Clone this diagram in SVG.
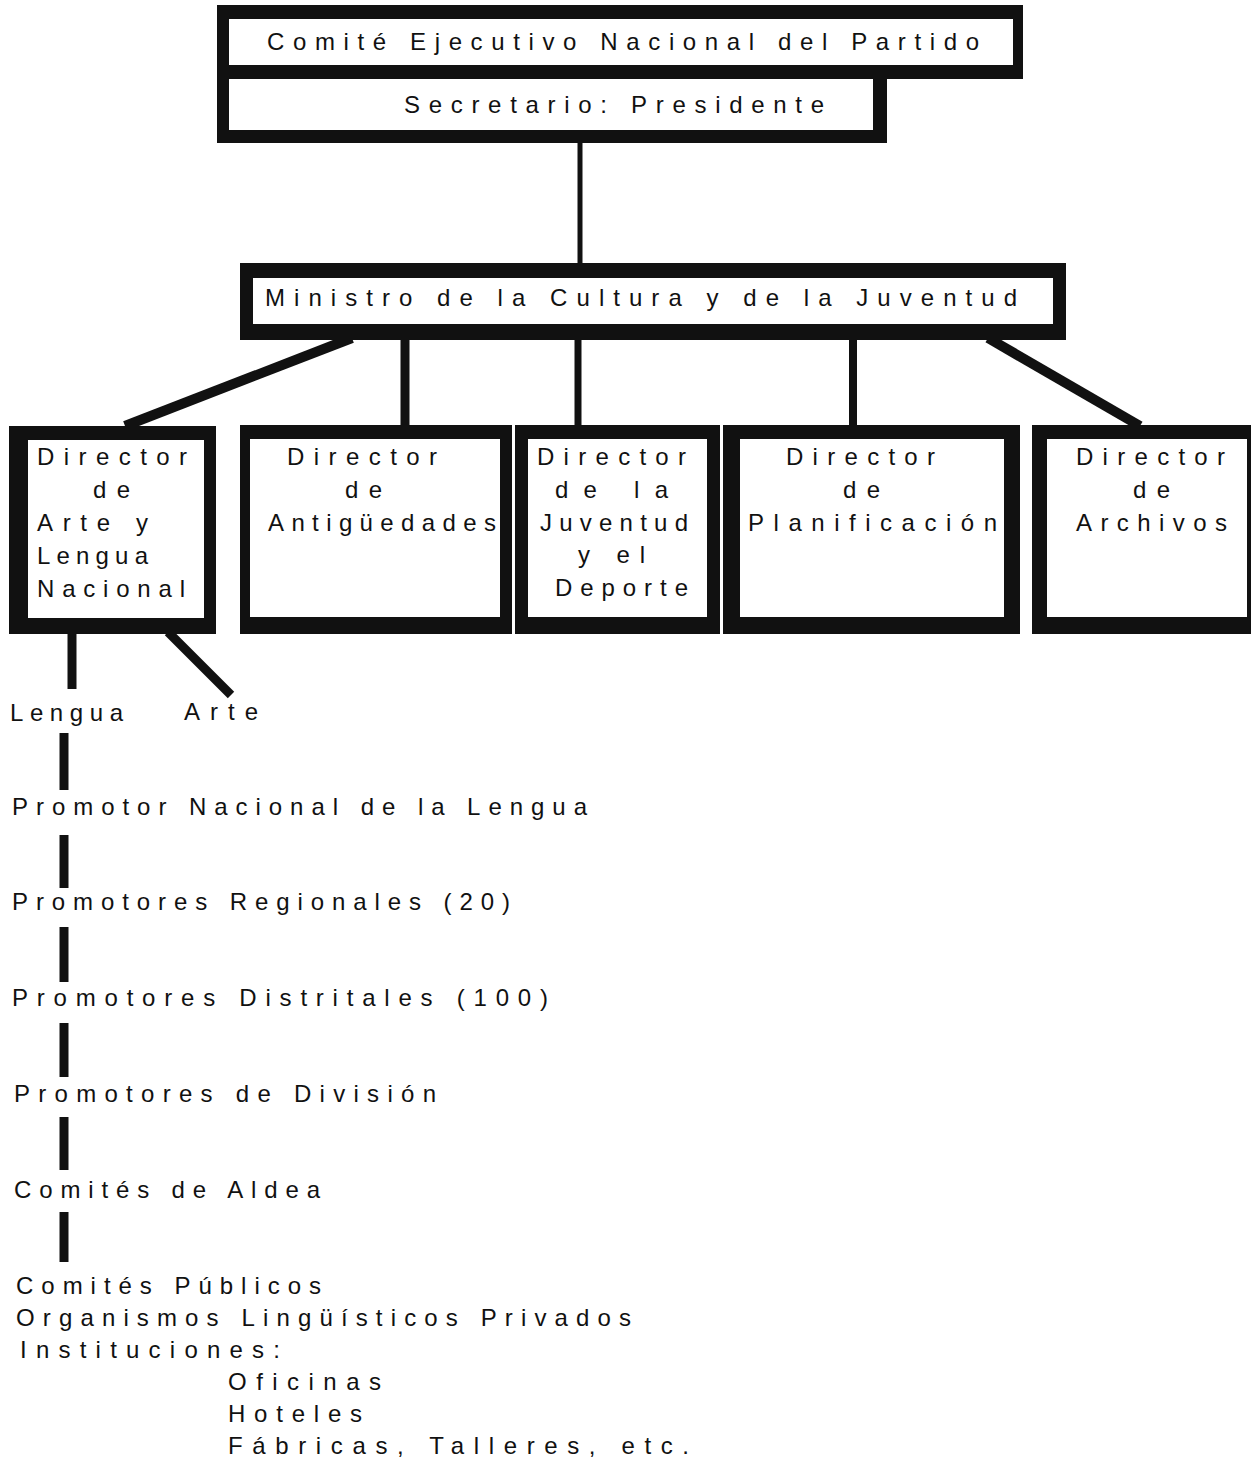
<svg xmlns="http://www.w3.org/2000/svg" width="1251" height="1459" viewBox="0 0 1251 1459">
<style>
text{font-family:"Liberation Sans",Arial,sans-serif;font-size:24px;fill:#111;}
.frame{fill:#111;}
.inner{fill:#fff;}
.ln{stroke:#111;fill:none;stroke-linecap:butt;}
</style>
<rect width="1251" height="1459" fill="#fff"/>
<g id="connectors">
<line class="ln" x1="580" y1="143" x2="580" y2="264" stroke-width="5"/>
<line class="ln" x1="352" y1="338" x2="125" y2="426" stroke-width="10"/>
<line class="ln" x1="405" y1="338" x2="405" y2="426" stroke-width="9"/>
<line class="ln" x1="578" y1="338" x2="578" y2="426" stroke-width="7"/>
<line class="ln" x1="853" y1="338" x2="853" y2="426" stroke-width="8"/>
<line class="ln" x1="988" y1="338" x2="1140" y2="426" stroke-width="10"/>
<line class="ln" x1="72" y1="632" x2="72" y2="689" stroke-width="9"/>
<line class="ln" x1="168" y1="632" x2="231" y2="695" stroke-width="9"/>
<line class="ln" x1="64" y1="733" x2="64" y2="790" stroke-width="9"/>
<line class="ln" x1="64" y1="835" x2="64" y2="888" stroke-width="9"/>
<line class="ln" x1="64" y1="927" x2="64" y2="982" stroke-width="9"/>
<line class="ln" x1="64" y1="1023" x2="64" y2="1077" stroke-width="9"/>
<line class="ln" x1="64" y1="1117" x2="64" y2="1170" stroke-width="9"/>
<line class="ln" x1="64" y1="1212" x2="64" y2="1262" stroke-width="9"/>
</g>
<g id="comite">
<rect class="frame" x="217" y="5" width="806" height="74"/>
<rect class="inner" x="229" y="19" width="784" height="46"/>
<text x="267" y="50" textLength="712" lengthAdjust="spacing">Comité Ejecutivo Nacional del Partido</text>
</g>
<g id="secretario">
<rect class="frame" x="217" y="65" width="670" height="78"/>
<rect class="inner" x="229" y="79" width="644" height="51"/>
<text x="404" y="113" textLength="420" lengthAdjust="spacing">Secretario: Presidente</text>
</g>
<g id="ministro">
<rect class="frame" x="240" y="263" width="826" height="77"/>
<rect class="inner" x="253" y="278" width="800" height="46"/>
<text x="265" y="306" textLength="752" lengthAdjust="spacing">Ministro de la Cultura y de la Juventud</text>
</g>
<g id="dir-arte-lengua">
<rect class="frame" x="9" y="426" width="207" height="208"/>
<rect class="inner" x="28" y="440" width="176" height="178"/>
<text x="37" y="465" textLength="150" lengthAdjust="spacing">Director</text>
<text x="93" y="498" textLength="37" lengthAdjust="spacing">de</text>
<text x="37" y="531" textLength="111" lengthAdjust="spacing">Arte y</text>
<text x="37" y="564" textLength="111" lengthAdjust="spacing">Lengua</text>
<text x="37" y="597" textLength="148" lengthAdjust="spacing">Nacional</text>
</g>
<g id="dir-antiguedades">
<rect class="frame" x="240" y="425" width="272" height="209"/>
<rect class="inner" x="250" y="439" width="250" height="178"/>
<text x="287" y="465" textLength="150" lengthAdjust="spacing">Director</text>
<text x="345" y="498" textLength="37" lengthAdjust="spacing">de</text>
<text x="268" y="531" textLength="228" lengthAdjust="spacing">Antigüedades</text>
</g>
<g id="dir-juventud">
<rect class="frame" x="515" y="425" width="205" height="209"/>
<rect class="inner" x="528" y="439" width="179" height="178"/>
<text x="537" y="465" textLength="149" lengthAdjust="spacing">Director</text>
<text x="555" y="498" textLength="113" lengthAdjust="spacing">de la</text>
<text x="540" y="531" textLength="148" lengthAdjust="spacing">Juventud</text>
<text x="578" y="563" textLength="67" lengthAdjust="spacing">y el</text>
<text x="555" y="596" textLength="133" lengthAdjust="spacing">Deporte</text>
</g>
<g id="dir-planificacion">
<rect class="frame" x="723" y="425" width="297" height="209"/>
<rect class="inner" x="740" y="439" width="264" height="178"/>
<text x="786" y="465" textLength="149" lengthAdjust="spacing">Director</text>
<text x="843" y="498" textLength="37" lengthAdjust="spacing">de</text>
<text x="748" y="531" textLength="249" lengthAdjust="spacing">Planificación</text>
</g>
<g id="dir-archivos">
<rect class="frame" x="1032" y="425" width="219" height="209"/>
<rect class="inner" x="1047" y="439" width="200" height="178"/>
<text x="1076" y="465" textLength="149" lengthAdjust="spacing">Director</text>
<text x="1133" y="498" textLength="37" lengthAdjust="spacing">de</text>
<text x="1076" y="531" textLength="151" lengthAdjust="spacing">Archivos</text>
</g>
<g id="lengua"><text x="10" y="721" textLength="113" lengthAdjust="spacing">Lengua</text></g>
<g id="arte"><text x="184" y="720" textLength="74" lengthAdjust="spacing">Arte</text></g>
<g id="promotor-nacional"><text x="12" y="815" textLength="575" lengthAdjust="spacing">Promotor Nacional de la Lengua</text></g>
<g id="promotores-regionales"><text x="12" y="910" textLength="498" lengthAdjust="spacing">Promotores Regionales (20)</text></g>
<g id="promotores-distritales"><text x="12" y="1006" textLength="536" lengthAdjust="spacing">Promotores Distritales (100)</text></g>
<g id="promotores-division"><text x="14" y="1102" textLength="422" lengthAdjust="spacing">Promotores de División</text></g>
<g id="comites-aldea"><text x="14" y="1198" textLength="306" lengthAdjust="spacing">Comités de Aldea</text></g>
<g id="base">
<text x="16" y="1294" textLength="305" lengthAdjust="spacing">Comités Públicos</text>
<text x="16" y="1326" textLength="615" lengthAdjust="spacing">Organismos Lingüísticos Privados</text>
<text x="20" y="1358" textLength="260" lengthAdjust="spacing">Instituciones:</text>
<text x="228" y="1390" textLength="153" lengthAdjust="spacing">Oficinas</text>
<text x="228" y="1422" textLength="134" lengthAdjust="spacing">Hoteles</text>
<text x="228" y="1454" textLength="461" lengthAdjust="spacing">Fábricas, Talleres, etc.</text>
</g>
</svg>
